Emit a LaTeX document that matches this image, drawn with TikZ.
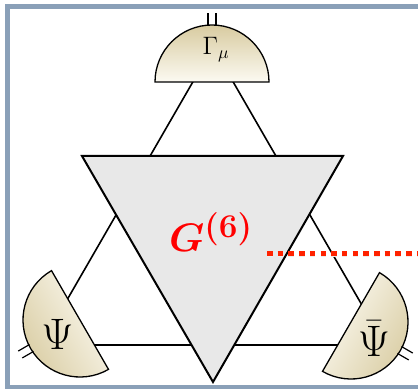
\documentclass[tikz,border=0pt]{standalone}
\usepackage{amsmath}
\usetikzlibrary{calc}

\definecolor{framegray}{HTML}{8AA0B8}
\definecolor{diskdark}{HTML}{D8CBA0}
\definecolor{diskpale}{HTML}{FCFAF2}
\definecolor{labelred}{HTML}{FF0000}
\definecolor{cutred}{HTML}{FF2200}

\begin{document}
\begin{tikzpicture}[x=1pt, y=1pt,
        halfdisk/.style={draw, line width=1.3pt, top color=diskdark, bottom color=diskpale},
        edgeline/.style={line width=1.6pt},
        vertexbox/.style={draw, line width=2pt, fill=black!9, line join=miter},
        stubline/.style={line width=1.2pt},
        disklabel/.style={anchor=base, inner sep=0pt},
        redlabel/.style={text=labelred, anchor=base, inner sep=0pt},
        cutline/.style={draw=cutred, line width=5pt, dash pattern=on 5.5pt off 5.2pt},
        cutshadow/.style={draw=black!7, line width=6pt, dash pattern=on 5.5pt off 5.2pt}
    ]
    \useasboundingbox (0,0) rectangle (418,391);

    % Define the frame
    \draw[framegray, line width=4.5pt] (418,384.5) -- (7.5,384.5) -- (7.5,4) -- (418,4);

    % Define corners of the outer triangle
    \coordinate (vA) at (213,344);
    \coordinate (vB) at (41,46);
    \coordinate (vC) at (385,46);
    \draw[edgeline] (vA) -- (vB) -- (vC) -- cycle;

    % Define the vertex triangle
    \coordinate (gTL) at (82,235);
    \coordinate (gTR) at (343,235);
    \coordinate (gB) at (213,9);
    \draw[vertexbox] (gTL) -- (gTR) -- (gB) -- cycle;

    % Define half disks
    \coordinate (cGamma) at (212,309);
    \coordinate (cPsi) at (80,71);
    \coordinate (cPsibar) at (351,69);
    \draw[halfdisk] ($(cGamma)+(0:57)$) arc[start angle=0, end angle=180, radius=57] -- cycle;
    \draw[halfdisk, shading angle=120] ($(cPsi)+(120:57)$) arc[start angle=120, end angle=300, radius=57] -- cycle;
    \draw[halfdisk, shading angle=240] ($(cPsibar)+(240:57)$) arc[start angle=240, end angle=420, radius=57] -- cycle;

    % Double legs on the disks
    \foreach \c/\a in {cGamma/90, cPsi/210, cPsibar/330}
        \foreach \s in {-4,4}
            \draw[stubline] ($(\c)+(\a:56)+(\a+90:\s)$) -- ($(\c)+(\a:69)+(\a+90:\s)$);

    % Labels
    \node[disklabel] (gamma) at (216,336) {\scalebox{1.75}{\Large$\Gamma_\mu$}};
    \node[disklabel] (psi) at (57.5,41) {\scalebox{1.77}{\Huge$\Psi$}};
    \node[disklabel] (psibar) at (374,34) {\scalebox{1.77}{\Huge$\bar{\Psi}$}};
    \node[redlabel] (green) at (211,139) {\scalebox{1.6}{\Huge$\boldsymbol{G}^{\boldsymbol{(6)}}$}};

    % Cut through the vertex
    \coordinate (cutstart) at (267,137);
    \coordinate (cutend) at (418,137);
    \draw[cutshadow, yshift=-2pt] (cutstart) -- (cutend);
    \draw[cutline] (cutstart) -- (cutend);

\end{tikzpicture}
\end{document}
